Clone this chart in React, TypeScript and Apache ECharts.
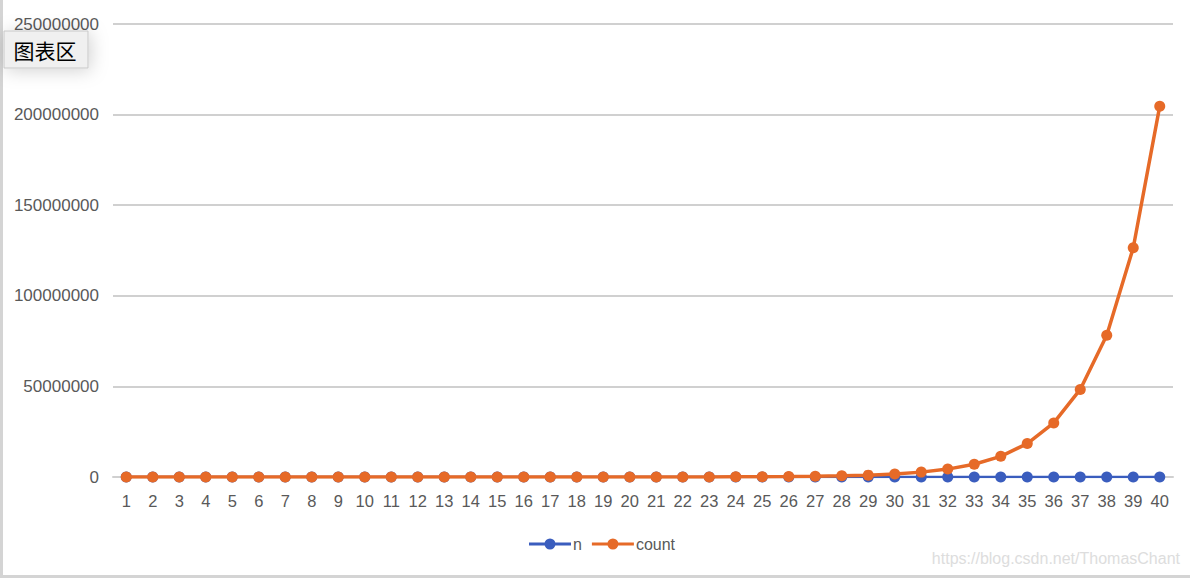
import React, { useEffect, useRef } from "react";
import * as echarts from "echarts";

const categories = [
  "1","2","3","4","5","6","7","8","9","10","11","12","13","14","15","16","17","18","19","20",
  "21","22","23","24","25","26","27","28","29","30","31","32","33","34","35","36","37","38","39","40",
];
const nValues = [
  1,2,3,4,5,6,7,8,9,10,11,12,13,14,15,16,17,18,19,20,
  21,22,23,24,25,26,27,28,29,30,31,32,33,34,35,36,37,38,39,40,
];
const countValues = [
  1,1,3,5,9,15,25,41,67,109,177,287,465,753,1219,1973,3193,5167,8361,13529,
  21891,35421,57313,92735,150049,242785,392835,635621,1028457,1664079,2692537,4356617,
  7049155,11405773,18454929,29860703,48315633,78176337,126491971,204668309,
];
const yTicks = { min: 0, max: 250000000, interval: 50000000 };

const BLUE = "#3A5DBE";
const ORANGE = "#E66A28";
const FONT = "'Liberation Sans', 'Noto Sans', Arial, sans-serif";
const LEGEND_ICON =
  "path://M0,5 L42,5 L42,8 L0,8 Z M15.5,6.5 A5.5,5.5 0 1,1 26.5,6.5 A5.5,5.5 0 1,1 15.5,6.5 Z";

export default function App() {
  const ref = useRef<HTMLDivElement>(null);
  useEffect(() => {
    if (!ref.current) return;
    const chart = echarts.init(ref.current, null, { renderer: "svg" });
    chart.setOption({
      animation: false,
      backgroundColor: "#ffffff",
      textStyle: { fontFamily: FONT },
      grid: { left: 113, right: 17, top: 24, bottom: 101, containLabel: false },
      legend: {
        bottom: 21,
        left: 524,
        itemWidth: 42,
        itemHeight: 11,
        itemGap: 10,
        textStyle: { fontSize: 16, color: "#595959", fontFamily: FONT, padding: [9, 0, 0, -3] },
        icon: LEGEND_ICON,
        data: ["n", "count"],
      },
      xAxis: {
        type: "category",
        data: categories,
        boundaryGap: true,
        axisLine: { show: true, lineStyle: { color: "#d0d0d0", width: 2 } },
        axisTick: { show: false },
        axisLabel: { fontSize: 16.5, color: "#595959", margin: 15, interval: 0, fontFamily: FONT },
      },
      yAxis: {
        type: "value",
        min: yTicks.min,
        max: yTicks.max,
        interval: yTicks.interval,
        axisLine: { show: false },
        axisTick: { show: false },
        splitLine: { lineStyle: { color: "#d0d0d0", width: 2 } },
        axisLabel: {
          fontSize: 17,
          color: "#595959",
          margin: 14,
          fontFamily: FONT,
          formatter: (v: number) => String(v),
        },
      },
      series: [
        {
          name: "n",
          type: "line",
          data: nValues,
          symbol: "circle",
          symbolSize: 11,
          itemStyle: { color: BLUE },
          lineStyle: { color: BLUE, width: 2.5 },
          z: 2,
        },
        {
          name: "count",
          type: "line",
          data: countValues,
          symbol: "circle",
          symbolSize: 11,
          itemStyle: { color: ORANGE },
          lineStyle: { color: ORANGE, width: 3.5 },
          z: 3,
        },
      ],
      graphic: [
        { type: "rect", shape: { x: 0, y: 0, width: 3, height: 578 }, style: { fill: "#d4d4d4" }, silent: true },
        { type: "rect", shape: { x: 0, y: 575, width: 1190, height: 3 }, style: { fill: "#d4d4d4" }, silent: true },
        {
          type: "rect",
          shape: { x: 4, y: 31, width: 84, height: 37 },
          style: {
            fill: "#f0f0f0",
            stroke: "#c8c8c8",
            lineWidth: 1,
            shadowBlur: 18,
            shadowColor: "rgba(0,0,0,0.18)",
            shadowOffsetX: 2,
            shadowOffsetY: 2,
          },
          z: 100,
        },
        {
          type: "text",
          x: 45,
          y: 50,
          style: {
            text: "图表区",
            font: "21px 'Noto Sans CJK SC'",
            fill: "#000000",
            align: "center",
            verticalAlign: "middle",
          },
          z: 101,
        },
        {
          type: "text",
          right: 10,
          bottom: 12,
          style: {
            text: "https://blog.csdn.net/ThomasChant",
            font: "16px 'Liberation Sans', Arial, sans-serif",
            fill: "#dddddd",
          },
          z: 50,
        },
      ],
    });
    return () => chart.dispose();
  }, []);
  return (
    <div
      ref={ref}
      style={{ position: "absolute", left: 0, top: 0, width: 1190, height: 578 }}
    />
  );
}
